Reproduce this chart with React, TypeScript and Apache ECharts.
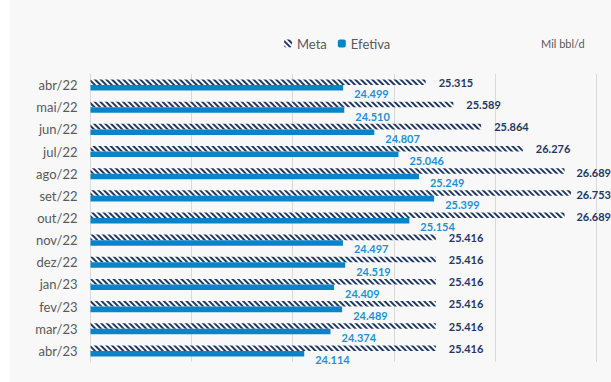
import React, { useEffect, useRef } from "react";
import * as echarts from "echarts";

const categories = ["abr/22", "mai/22", "jun/22", "jul/22", "ago/22", "set/22", "out/22", "nov/22", "dez/22", "jan/23", "fev/23", "mar/23", "abr/23"];
const meta = [25315, 25589, 25864, 26276, 26689, 26753, 26689, 25416, 25416, 25416, 25416, 25416, 25416];
const efetiva = [24499, 24510, 24807, 25046, 25249, 25399, 25154, 24497, 24519, 24409, 24489, 24374, 24114];
const axisMin = 22000;
const axisMax = 27000;
const axisStep = 1000;
const unitLabel = "Mil bbl/d";

const fmt = (v: number) => (v / 1000).toFixed(3);

export default function App() {
  const ref = useRef<HTMLDivElement>(null);
  useEffect(() => {
    if (!ref.current) return;
    const chart = echarts.init(ref.current, null, { renderer: "svg" });
    const font = "Lato, 'Noto Sans', sans-serif";
    const W = 611;
    chart.setOption({
      animation: false,
      backgroundColor: "#ffffff",
      textStyle: { fontFamily: font },
      graphic: [
        { type: "rect", z: -10, silent: true, shape: { x: 10, y: 0, width: 601, height: 382 }, style: { fill: "#f8f8f8" } },
        { type: "text", left: 541, top: 38, style: { text: unitLabel, fontSize: 11, fill: "#595959", fontFamily: font } },
      ],
      legend: {
        left: 279,
        top: 32,
        itemWidth: 8,
        itemHeight: 8,
        itemGap: 11,
        textStyle: { fontSize: 13, color: "#595959", fontFamily: font },
        data: ["Meta", "Efetiva"],
      },
      grid: { left: 90.5, right: 15, top: 74, height: 288, containLabel: false },
      xAxis: {
        type: "value",
        min: axisMin,
        max: axisMax,
        interval: axisStep,
        axisLabel: { show: false },
        axisLine: { show: false },
        axisTick: { show: false },
        splitLine: { show: true, lineStyle: { color: "#d9d9d9", width: 1 } },
      },
      yAxis: {
        type: "category",
        data: categories,
        inverse: true,
        axisLine: { show: true, lineStyle: { color: "#d9d9d9" } },
        axisTick: { show: false },
        axisLabel: { color: "#595959", fontSize: 13, margin: 13, fontFamily: font },
      },
      series: [
        {
          name: "Meta",
          type: "bar",
          data: meta,
          barGap: "0%",
          barCategoryGap: "50%",
          itemStyle: {
            color: "#ffffff",
            decal: {
              symbol: "rect",
              symbolSize: 1,
              color: "#1f3864",
              dashArrayX: [1, 0],
              dashArrayY: [1.8, 1.4],
              rotation: Math.PI / 4,
            },
          },
          labelLayout: (p: any) => {
            const r = p.labelRect;
            if (r.x + r.width > W) {
              return { x: W - r.width, y: r.y, align: "left", verticalAlign: "top" };
            }
            return {};
          },
          label: {
            show: true,
            position: "right",
            distance: 13,
            offset: [0, 1.5],
            color: "#1f3864",
            fontWeight: "bold",
            fontSize: 11,
            fontFamily: font,
            formatter: (p: any) => fmt(p.value),
          },
        },
        {
          name: "Efetiva",
          type: "bar",
          data: efetiva,
          itemStyle: { color: "#0a84c6" },
          label: {
            show: true,
            position: "right",
            distance: 11,
            offset: [0, 6],
            color: "#1f90d4",
            fontWeight: "bold",
            fontSize: 11,
            fontFamily: font,
            formatter: (p: any) => fmt(p.value),
          },
        },
      ],
    });
    return () => chart.dispose();
  }, []);
  return <div ref={ref} style={{ position: "absolute", left: 0, top: 0, width: 611, height: 382 }} />;
}
